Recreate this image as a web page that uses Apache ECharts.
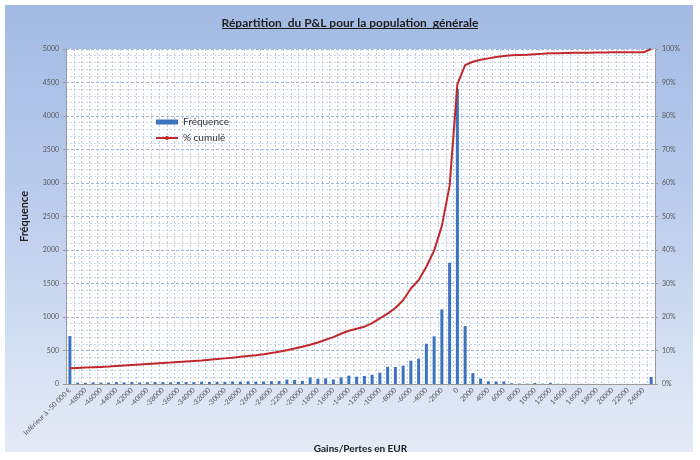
<!DOCTYPE html>
<html>
<head>
<meta charset="utf-8">
<script src="https://cdn.jsdelivr.net/npm/echarts@6/dist/echarts.min.js"></script>
<style>
  html, body { margin: 0; padding: 0; background: #ffffff; }
  #wrap { position: relative; width: 700px; height: 460px; }
  #bg { position: absolute; left: 5px; top: 5px; width: 688px; height: 447px;
        background: linear-gradient(to bottom, #a2bae3 0%, #bccded 45%, #d6e1f2 80%, #e4ebf6 100%); }
  #chart { position: absolute; left: 0; top: 0; width: 700px; height: 460px; }
</style>
</head>
<body>
<div id="wrap"><div id="bg"></div><div id="chart"></div></div>
<script>
var categories = [
  "Inférieur à -50 000 €", "-49000", "-48000", "-47000", "-46000", "-45000", "-44000", "-43000", "-42000", "-41000",
  "-40000", "-39000", "-38000", "-37000", "-36000", "-35000", "-34000", "-33000", "-32000", "-31000",
  "-30000", "-29000", "-28000", "-27000", "-26000", "-25000", "-24000", "-23000", "-22000", "-21000",
  "-20000", "-19000", "-18000", "-17000", "-16000", "-15000", "-14000", "-13000", "-12000", "-11000",
  "-10000", "-9000", "-8000", "-7000", "-6000", "-5000", "-4000", "-3000", "-2000", "-1000",
  "0", "1000", "2000", "3000", "4000", "5000", "6000", "7000", "8000", "9000",
  "10000", "11000", "12000", "13000", "14000", "15000", "16000", "17000", "18000", "19000",
  "20000", "21000", "22000", "23000", "24000", "25000"
];

var frequence = [
  716, 20, 18, 25, 22, 20, 28, 24, 30, 22,
  26, 30, 28, 25, 32, 30, 28, 35, 30, 33,
  32, 38, 35, 40, 36, 38, 42, 45, 65, 60,
  48, 97, 80, 85, 68, 97, 125, 109, 119, 139,
  169, 258, 254, 273, 348, 378, 601, 711, 1114, 1810,
  4400, 866, 162, 82, 40, 38, 38, 12, 6, 5,
  15, 5, 18, 4, 4, 3, 3, 3, 2, 2,
  2, 2, 2, 2, 2, 105
];

var cumule = [
  4.7, 4.8, 4.9, 5.0, 5.1, 5.2, 5.35, 5.5, 5.65, 5.8,
  5.95, 6.1, 6.25, 6.4, 6.6, 6.75, 6.9, 7.05, 7.25, 7.45,
  7.65, 7.85, 8.1, 8.35, 8.6, 8.9, 9.25, 9.6, 10.1, 10.6,
  11.1, 11.7, 12.4, 13.2, 14.0, 15.0, 15.9, 16.5, 17.1, 18.2,
  19.6, 21.0, 22.7, 25.0, 28.5, 31.0, 35.0, 39.8, 47.2, 59.2,
  89.5, 95.2, 96.2, 96.8, 97.2, 97.6, 97.9, 98.1, 98.2, 98.3,
  98.45, 98.55, 98.7, 98.75, 98.8, 98.85, 98.9, 98.9, 98.95, 98.95,
  99.0, 99.0, 99.0, 99.0, 99.0, 100
];

var titleText = "Répartition  du P&L pour la population  générale";
var legendNames = ["Fréquence", "% cumulé"];

var chart = echarts.init(document.getElementById('chart'), null, { renderer: 'canvas' });
var labelColor = '#595959';
var font = 'Lato, "Open Sans", sans-serif';

// measure title for its underline
var cnv = document.createElement('canvas').getContext('2d');
cnv.font = 'bold 12px ' + font;
var tw = cnv.measureText(titleText).width;
var tx1 = Math.round(350 - tw / 2), tx2 = Math.round(350 + tw / 2);

chart.setOption({
  backgroundColor: 'transparent',
  animation: false,
  textStyle: { fontFamily: font },
  title: {
    text: titleText,
    left: 'center',
    top: 12,
    textStyle: { fontSize: 12, fontWeight: 'bold', color: '#1e1e1e', fontFamily: font }
  },
  graphic: [{
    type: 'line',
    shape: { x1: tx1, y1: 28.5, x2: tx2, y2: 28.5 },
    style: { stroke: '#1e1e1e', lineWidth: 1 }
  }],
  legend: {
    orient: 'vertical',
    left: 150,
    top: 112,
    itemGap: 6,
    itemWidth: 22,
    itemHeight: 5,
    textStyle: { fontSize: 10, color: '#333', fontFamily: font },
    data: [
      { name: legendNames[0], icon: 'rect' },
      { name: legendNames[1] }
    ]
  },
  grid: {
    left: 66, right: 45, top: 49, bottom: 76,
    show: true, backgroundColor: '#ffffff', borderWidth: 0
  },
  xAxis: {
    type: 'category',
    data: categories,
    boundaryGap: true,
    name: 'Gains/Pertes en EUR',
    nameLocation: 'middle',
    nameGap: 57,
    nameTextStyle: { fontSize: 10, fontWeight: 'bold', color: '#222', fontFamily: font },
    axisLine: { lineStyle: { color: '#9a9a9a' } },
    axisTick: { interval: 0, length: 3, lineStyle: { color: '#9a9a9a' } },
    axisLabel: { interval: 1, rotate: 45, fontSize: 7, color: labelColor, margin: 5, fontFamily: font },
    splitLine: { show: true, interval: 0, lineStyle: { color: '#b9cbe7', type: [2, 2], width: 1 } }
  },
  yAxis: [{
    type: 'value',
    min: 0, max: 5000, interval: 500,
    name: 'Fréquence',
    nameLocation: 'middle',
    nameGap: 36,
    nameRotate: 90,
    nameTextStyle: { fontSize: 11, fontWeight: 'bold', color: '#222', fontFamily: font },
    axisLine: { show: true, lineStyle: { color: '#9a9a9a' } },
    axisTick: { show: true, length: 3, lineStyle: { color: '#9a9a9a' } },
    axisLabel: { fontSize: 7, color: labelColor, margin: 7, fontFamily: font,
                 formatter: function (v) { return String(v); } },
    splitLine: { show: true, lineStyle: { color: '#9fb6dc', type: [3, 2], width: 1 } },
    minorTick: { show: false, splitNumber: 5 },
    minorSplitLine: { show: true, lineStyle: { color: '#c9d7ee', type: [2, 2], width: 1 } }
  }, {
    type: 'value',
    min: 0, max: 100, interval: 10,
    position: 'right',
    axisLine: { show: true, lineStyle: { color: '#9a9a9a' } },
    axisTick: { show: true, length: 3, lineStyle: { color: '#9a9a9a' } },
    axisLabel: { fontSize: 7, color: labelColor, margin: 7, formatter: '{value}%', fontFamily: font },
    splitLine: { show: false }
  }],
  series: [{
    name: legendNames[0],
    type: 'bar',
    data: frequence,
    barWidth: 3,
    yAxisIndex: 0,
    itemStyle: { color: '#3b74bc' },
    z: 2
  }, {
    name: legendNames[1],
    type: 'line',
    data: cumule,
    yAxisIndex: 1,
    symbol: 'none',
    smooth: false,
    lineStyle: { color: '#c0282b', width: 2 },
    itemStyle: { color: '#c0282b' },
    z: 3
  }]
});
</script>
</body>
</html>
